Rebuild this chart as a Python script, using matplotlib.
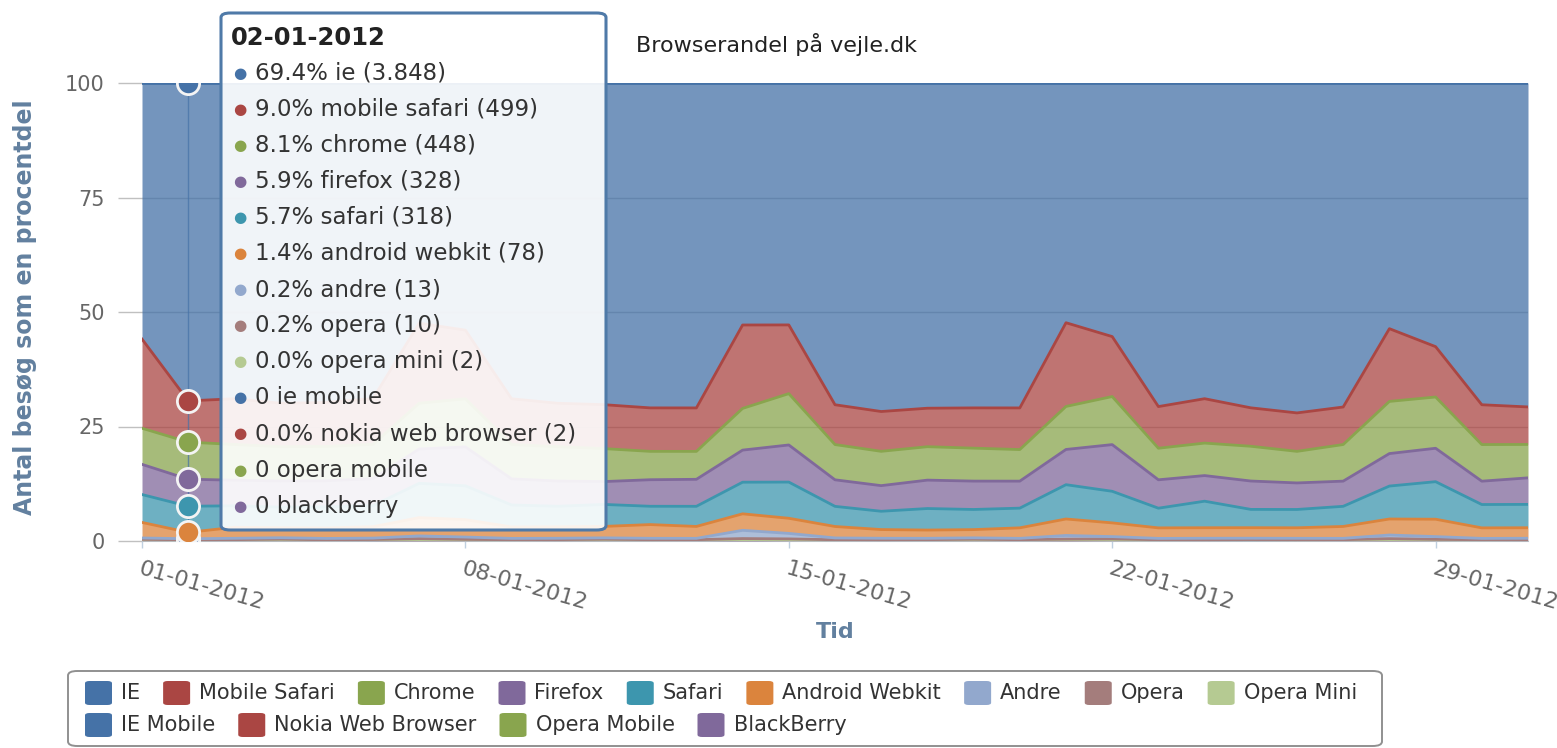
import matplotlib
matplotlib.use("Agg")
import matplotlib.pyplot as plt
from matplotlib.patches import FancyBboxPatch
import numpy as np

W, H = 1557, 748

days = np.arange(1, 32)
tick_days = [1, 8, 15, 22, 29]
tick_labels = ['01-01-2012', '08-01-2012', '15-01-2012', '22-01-2012', '29-01-2012']

names = ['IE', 'Mobile Safari', 'Chrome', 'Firefox', 'Safari', 'Android Webkit', 'Andre',
         'Opera', 'Opera Mini', 'IE Mobile', 'Nokia Web Browser', 'Opera Mobile', 'BlackBerry']
colors = ['#4572A7', '#AA4643', '#89A54E', '#80699B', '#3D96AE', '#DB843D', '#92A8CD',
          '#A47D7C', '#B5CA92', '#4572A7', '#AA4643', '#89A54E', '#80699B']

# daglige andele (procent), 1.-31. januar 2012
ie = [56.0, 69.4, 69.0, 70.0, 69.8, 69.0, 52.5, 54.0, 69.0, 70.0, 70.3, 71.0, 71.0, 52.8, 52.8, 70.3,
      71.8, 71.0, 71.0, 71.0, 52.4, 55.4, 70.7, 69.0, 71.0, 72.1, 70.8, 53.7, 57.6, 70.3, 70.8]
mobile_safari = [19.5, 9.0, 10.0, 9.5, 9.6, 10.0, 17.5, 15.0, 10.0, 9.5, 9.6, 9.5, 9.5, 18.2, 15.0, 8.7,
                 8.7, 8.4, 8.8, 9.1, 18.3, 13.1, 9.1, 9.7, 8.4, 8.4, 8.2, 15.9, 11.0, 8.7, 8.2]
chrome = [7.9, 8.1, 7.8, 7.5, 7.5, 7.5, 10.0, 10.5, 7.5, 7.5, 7.2, 6.2, 6.1, 9.1, 11.2, 7.7,
          7.5, 7.3, 7.2, 6.9, 9.4, 10.5, 6.9, 7.1, 7.6, 6.9, 8.0, 11.4, 11.2, 8.0, 7.3]
firefox = [6.6, 5.9, 5.6, 5.7, 5.7, 5.9, 7.5, 8.5, 5.7, 5.5, 5.0, 5.8, 5.9, 7.0, 8.1, 5.8,
           5.6, 6.2, 6.2, 5.9, 7.7, 10.2, 6.2, 5.6, 6.2, 5.8, 5.5, 7.1, 7.3, 5.1, 5.8]
safari = [6.1, 5.7, 4.7, 4.5, 4.6, 4.6, 7.5, 7.4, 4.8, 4.5, 4.8, 4.0, 4.4, 6.9, 7.9, 4.4,
          4.0, 4.7, 4.4, 4.3, 7.5, 6.9, 4.3, 5.8, 4.0, 4.0, 4.4, 7.2, 8.2, 5.1, 5.1]
android_webkit = [3.4, 1.4, 2.4, 2.2, 2.3, 2.5, 4.0, 3.8, 2.5, 2.5, 2.5, 3.0, 2.6, 3.6, 3.3, 2.5,
                  1.9, 1.8, 1.8, 2.3, 3.6, 3.0, 2.3, 2.3, 2.3, 2.3, 2.6, 3.5, 3.8, 2.3, 2.3]
andre = [0.3, 0.23, 0.3, 0.3, 0.3, 0.3, 0.6, 0.5, 0.3, 0.3, 0.3, 0.3, 0.3, 1.8, 1.2, 0.4,
         0.3, 0.3, 0.3, 0.3, 0.8, 0.5, 0.3, 0.3, 0.3, 0.3, 0.3, 0.8, 0.6, 0.3, 0.3]
opera = [0.2, 0.18, 0.2, 0.3, 0.2, 0.2, 0.3, 0.2, 0.2, 0.2, 0.3, 0.2, 0.2, 0.3, 0.3, 0.2,
         0.2, 0.2, 0.3, 0.2, 0.2, 0.3, 0.2, 0.2, 0.2, 0.2, 0.2, 0.3, 0.2, 0.2, 0.2]
opera_mini = [0.1, 0.04, 0.05, 0.05, 0.04, 0.05, 0.1, 0.1, 0.05, 0.04, 0.05, 0.05, 0.04, 0.1, 0.1, 0.05,
              0.04, 0.05, 0.05, 0.04, 0.1, 0.1, 0.05, 0.04, 0.05, 0.05, 0.04, 0.1, 0.1, 0.05, 0.04]
ie_mobile = [0, 0, 0, 0, 0, 0.02, 0, 0, 0, 0, 0, 0, 0, 0.02, 0, 0,
             0, 0, 0, 0, 0, 0, 0, 0, 0.02, 0, 0, 0, 0, 0, 0]
nokia = [0.04, 0.04, 0.02, 0.04, 0.02, 0.04, 0.05, 0.04, 0.02, 0.04, 0.02, 0.04, 0.02, 0.05, 0.04, 0.02,
         0.04, 0.02, 0.04, 0.02, 0.05, 0.04, 0.02, 0.04, 0.02, 0.04, 0.02, 0.05, 0.04, 0.02, 0.04]
opera_mobile = [0, 0, 0, 0, 0, 0, 0.02, 0, 0, 0, 0, 0, 0, 0.02, 0, 0,
                0, 0, 0, 0, 0.02, 0, 0, 0, 0, 0, 0, 0.02, 0, 0, 0]
blackberry = [0.02, 0, 0.02, 0.02, 0, 0.02, 0.04, 0.02, 0, 0.02, 0.02, 0, 0.02, 0.04, 0.02, 0,
              0.02, 0.02, 0, 0.02, 0.04, 0.02, 0, 0.02, 0.02, 0, 0.02, 0.04, 0.02, 0, 0.02]

# besøg den 02-01-2012 (tooltip)
hover_day = 2
hover_label = '02-01-2012'
hover_counts = [3848, 499, 448, 328, 318, 78, 13, 10, 2, 0, 2, 0, 0]

values = np.array([ie, mobile_safari, chrome, firefox, safari, android_webkit, andre, opera,
                   opera_mini, ie_mobile, nokia, opera_mobile, blackberry], dtype=float)
pct = values / values.sum(axis=0) * 100
tops = np.cumsum(pct[::-1], axis=0)[::-1]
bottoms = np.vstack([tops[1:], np.zeros(len(days))])


def fx(x):
    return x / W


def fy(y):
    return 1 - y / H


fig = plt.figure(figsize=(W / 100, H / 100), dpi=100)
ax = fig.add_axes([fx(142), fy(541), (1528 - 142) / W, (541 - 83) / H])

for i in range(len(names) - 1, -1, -1):
    ax.fill_between(days, bottoms[i], tops[i], color=colors[i], alpha=0.75, lw=0, zorder=2)
    ax.plot(days, tops[i], color=colors[i], lw=2, zorder=3, solid_joinstyle='round')

ax.set_xlim(1, 31)
ax.set_ylim(0, 100)
ax.set_yticks([0, 25, 50, 75, 100])
ax.set_xticks(tick_days)
ax.set_xticklabels(tick_labels, rotation=-16, ha='left', va='top', rotation_mode='anchor')
ax.yaxis.grid(True, color='#C0C0C0', lw=1)
ax.set_axisbelow(True)
for s in ['top', 'right', 'left']:
    ax.spines[s].set_visible(False)
ax.spines['bottom'].set_color('#C0D0E0')
ax.spines['bottom'].set_zorder(1)
ax.tick_params(axis='y', length=17, color='#C0C0C0', width=1, pad=10, labelsize=15, labelcolor='#666666')
ax.tick_params(axis='x', length=5, color='#C0D0E0', width=1, pad=8, labelsize=16, labelcolor='#666666')

# crosshair og hover-punkter
ax.axvline(hover_day, color='#4572A7', lw=1, alpha=0.7, zorder=4)
hi = hover_day - 1
for i in range(len(names) - 1, -1, -1):
    ax.plot(hover_day, tops[i, hi], 'o', ms=16, mfc=colors[i], mec='#F4F4F4', mew=2, zorder=5)

axis_col = '#62809F'
fig.text(fx(25), fy(307), 'Antal besøg som en procentdel', rotation=90, ha='center', va='center',
         fontsize=17, fontweight='bold', color=axis_col)
fig.text(fx(835), fy(632), 'Tid', ha='center', va='center', fontsize=16, fontweight='bold', color=axis_col)
fig.text(fx(777), fy(45), 'Browserandel på vejle.dk', ha='center', va='center', fontsize=16, color='#222222')

# tooltip
tip = FancyBboxPatch((fx(221), fy(530)), (606 - 221) / W, (530 - 13) / H,
                     boxstyle='round,pad=0,rounding_size=0.006', transform=fig.transFigure,
                     facecolor='white', alpha=0.9, edgecolor='none', zorder=10)
fig.add_artist(tip)
tip_edge = FancyBboxPatch((fx(221), fy(530)), (606 - 221) / W, (530 - 13) / H,
                          boxstyle='round,pad=0,rounding_size=0.006', transform=fig.transFigure,
                          facecolor='none', edgecolor='#4F7AA8', lw=2.2, zorder=11)
fig.add_artist(tip_edge)
fig.text(fx(231), fy(38), hover_label, ha='left', va='center', fontsize=17.5, fontweight='bold',
         color='#222222', zorder=12)
total = sum(hover_counts)
for k, (name, cnt) in enumerate(zip(names, hover_counts)):
    yy = 73 + k * 36.1
    if cnt == 0:
        line = f'0 {name.lower()}'
    else:
        line = f'{cnt / total * 100:.1f}% {name.lower()} ({cnt:,})'.replace(',', '.')
    fig.text(fx(240), fy(yy), '●', ha='center', va='center', fontsize=11, color=colors[k], zorder=12)
    fig.text(fx(255), fy(yy), line, ha='left', va='center', fontsize=16.5, color='#333333', zorder=12)

# legend
leg_box = FancyBboxPatch((fx(68), fy(746)), (1382 - 68) / W, (746 - 671) / H,
                         boxstyle='round,pad=0,rounding_size=0.006', transform=fig.transFigure,
                         facecolor='white', edgecolor='#909090', lw=1.4, zorder=10)
fig.add_artist(leg_box)
renderer = fig.canvas.get_renderer()
rows = [range(0, 9), range(9, 13)]
row_y = [693, 725]
for r, idx in enumerate(rows):
    x = 85
    for i in idx:
        sw = FancyBboxPatch((fx(x), fy(row_y[r] + 12)), 27 / W, 24 / H,
                            boxstyle='round,pad=0,rounding_size=0.003', transform=fig.transFigure,
                            facecolor=colors[i], edgecolor='none', zorder=11)
        fig.add_artist(sw)
        t = fig.text(fx(x + 36), fy(row_y[r]), names[i], ha='left', va='center', fontsize=15,
                     color='#333333', zorder=12)
        x += 36 + t.get_window_extent(renderer).width + 23

fig.savefig('out.png', dpi=100, facecolor='white')
